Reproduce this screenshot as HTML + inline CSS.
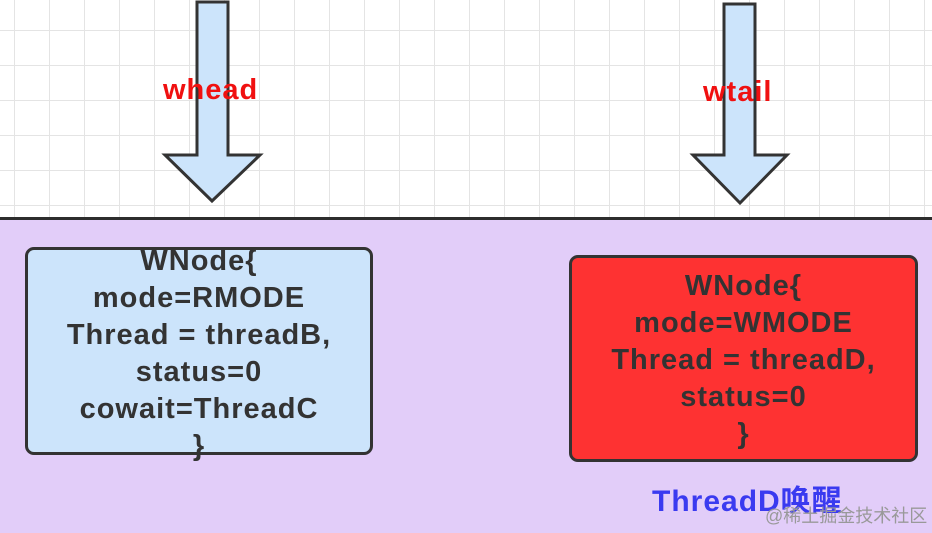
<!DOCTYPE html>
<html><head><meta charset="utf-8"><style>
body{margin:0;width:932px;height:530px;overflow:hidden;position:relative;background:#fff;font-family:"Liberation Sans","Noto Sans CJK SC",sans-serif}
.grid{position:absolute;left:0;top:0;width:932px;height:218px;background-image:linear-gradient(to right,#e4e4e4 1px,transparent 1px),linear-gradient(to bottom,#e4e4e4 1px,transparent 1px);background-size:35px 35px;background-position:14px 30px}
.low{position:absolute;left:0;top:217px;width:932px;height:313px;background:#e2cdf9;border-top:3px solid #2d2d2d}
.box{position:absolute;border:3px solid #333;border-radius:9px;text-align:center;font-weight:bold;color:#333;font-size:29px;letter-spacing:1px;box-sizing:border-box;white-space:nowrap}
.lbl{position:absolute;font-weight:bold;font-size:29px;letter-spacing:1px;color:#f01010}
</style></head><body>
<div class="grid"></div>
<svg style="position:absolute;left:0;top:0" width="932" height="220">
<polygon points="197,2 228,2 228,155 260,155 212,201 165,155 197,155" fill="#cce4fb" stroke="#333" stroke-width="3" stroke-linejoin="miter"/>
<polygon points="724,4 755,4 755,155 787,155 740,203 693,155 724,155" fill="#cce4fb" stroke="#333" stroke-width="3"/>
</svg>
<div class="lbl" style="left:163px;top:74px">whead</div>
<div class="lbl" style="left:703px;top:76px">wtail</div>
<div class="low"></div>
<div class="box" style="left:25px;top:247px;width:348px;height:208px;background:#cce4fb;line-height:37px">
<div style="margin-top:-7px">WNode{<br>mode=RMODE<br>Thread = threadB,<br>status=0<br>cowait=ThreadC<br>}</div></div>
<div class="box" style="left:569px;top:255px;width:349px;height:207px;background:#fe3232;line-height:37px">
<div style="margin-top:10px">WNode{<br>mode=WMODE<br>Thread = threadD,<br>status=0<br>}</div></div>
<div style="position:absolute;left:652px;top:476px;font-size:30px;letter-spacing:1px;font-weight:bold;color:#3a3af0">ThreadD唤醒</div>
<div style="position:absolute;left:765px;top:502px;font-size:18px;color:#999">@稀土掘金技术社区</div>
</body></html>
